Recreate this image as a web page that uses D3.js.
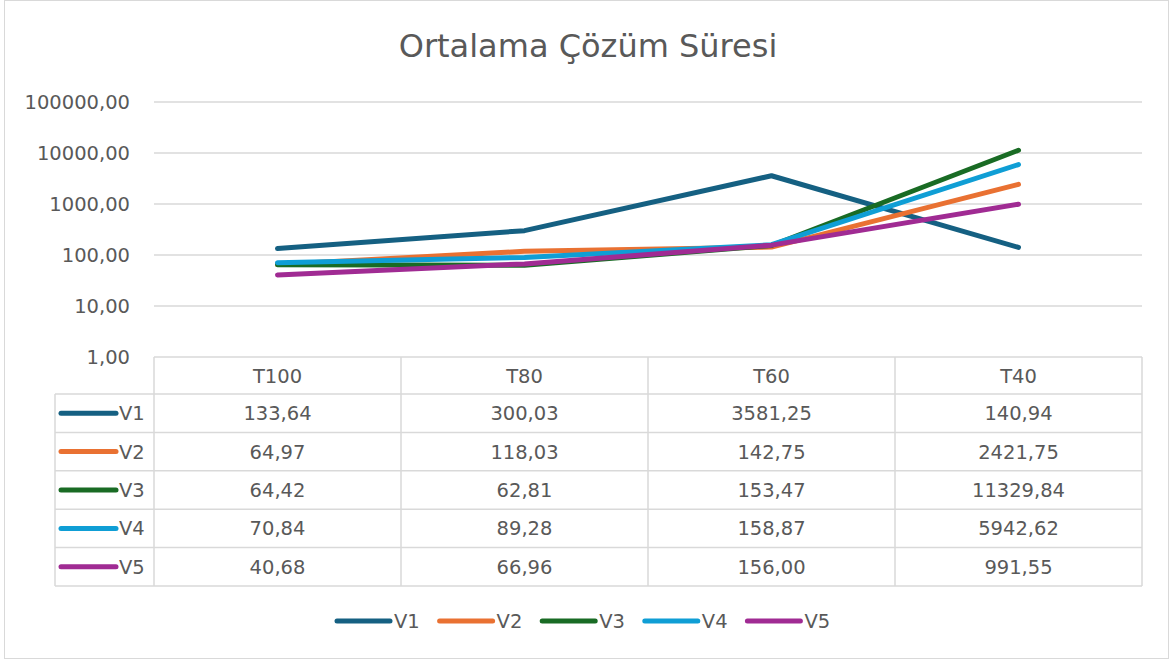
<!DOCTYPE html>
<html>
<head>
<meta charset="utf-8">
<script src="https://cdn.jsdelivr.net/npm/d3@7"></script>
<style>
  body { margin: 0; background: #fff; }
  svg { display: block; font-family: "DejaVu Sans", sans-serif; }
</style>
</head>
<body>
<svg id="chart"></svg>
<script>
let categories = ['T100', 'T80', 'T60', 'T40']
let seriesNames = ['V1', 'V2', 'V3', 'V4', 'V5']
let v1 = [133.64, 300.03, 3581.25, 140.94]
let v2 = [64.97, 118.03, 142.75, 2421.75]
let v3 = [64.42, 62.81, 153.47, 11329.84]
let v4 = [70.84, 89.28, 158.87, 5942.62]
let v5 = [40.68, 66.96, 156.00, 991.55]
let yTicks = [1, 10, 100, 1000, 10000, 100000]
let colors = ['#156082', '#E97132', '#196B24', '#0F9ED5', '#A02B93']

let series = [v1, v2, v3, v4, v5]

let w = 1171
let h = 659
let plotLeft = 154
let plotRight = 1142
let plotTop = 102
let plotBottom = 357
let headerH = 37
let rowH = 38.4
let legendX = 55
let fs = 19.5
let txt = '#595959'

let fmt = (v) => v.toFixed(2).replace('.', ',')

let svg = d3.select('#chart').attr('width', w).attr('height', h)

// chart border
svg.append('rect')
   .attr('x', 4.5).attr('y', 0.5)
   .attr('width', 1164).attr('height', 658)
   .attr('fill', '#fff').attr('stroke', '#d9d9d9')

svg.append('text')
   .attr('x', 588).attr('y', 57)
   .attr('text-anchor', 'middle')
   .attr('font-size', 32)
   .attr('fill', txt)
   .text('Ortalama Çözüm Süresi')

let xScale = d3.scaleBand().domain(categories).range([plotLeft, plotRight])
let yScale = d3.scaleLog().domain([1, 100000]).range([plotBottom, plotTop])

// gridlines
svg.append('g')
   .selectAll('line')
   .data(yTicks.slice(1))
   .enter()
   .append('line')
   .attr('x1', plotLeft).attr('x2', plotRight)
   .attr('y1', (d) => yScale(d)).attr('y2', (d) => yScale(d))
   .attr('stroke', '#d9d9d9').attr('stroke-width', 1.5)

// y axis labels
let yAxis = d3.axisLeft(yScale).tickValues(yTicks).tickFormat(fmt).tickSize(0).tickPadding(24)
let yg = svg.append('g').attr('transform', 'translate(' + plotLeft + ',0)').call(yAxis)
yg.select('.domain').remove()
yg.selectAll('text').attr('font-size', fs).attr('fill', txt).attr('font-family', '"DejaVu Sans", sans-serif')

// data table
let tbl = svg.append('g')
let tableBottom = plotBottom + headerH + rowH * series.length
let gridStroke = '#d9d9d9'

tbl.append('line').attr('x1', plotLeft).attr('x2', plotRight).attr('y1', plotBottom).attr('y2', plotBottom)
   .attr('stroke', gridStroke).attr('stroke-width', 1.5)
series.forEach((s, i) => {
  let y = plotBottom + headerH + rowH * i
  tbl.append('line').attr('x1', legendX).attr('x2', plotRight).attr('y1', y).attr('y2', y)
     .attr('stroke', gridStroke).attr('stroke-width', 1.5)
})
tbl.append('line').attr('x1', legendX).attr('x2', plotRight).attr('y1', tableBottom).attr('y2', tableBottom)
   .attr('stroke', gridStroke).attr('stroke-width', 1.5)
tbl.append('line').attr('x1', legendX).attr('x2', legendX).attr('y1', plotBottom + headerH).attr('y2', tableBottom)
   .attr('stroke', gridStroke).attr('stroke-width', 1.5)
categories.concat(['end']).forEach((c) => {
  let x = c === 'end' ? plotRight : xScale(c)
  tbl.append('line').attr('x1', x).attr('x2', x).attr('y1', plotBottom).attr('y2', tableBottom)
     .attr('stroke', gridStroke).attr('stroke-width', 1.5)
})

// header
tbl.selectAll('.hdr')
   .data(categories)
   .enter()
   .append('text')
   .attr('x', (d) => xScale(d) + xScale.bandwidth() / 2)
   .attr('y', plotBottom + headerH / 2 + 7)
   .attr('text-anchor', 'middle')
   .attr('font-size', fs).attr('fill', txt)
   .text((d) => d)

series.forEach((s, i) => {
  let yMid = plotBottom + headerH + rowH * i + rowH / 2
  tbl.append('line')
     .attr('x1', legendX + 6).attr('x2', legendX + 61)
     .attr('y1', yMid).attr('y2', yMid)
     .attr('stroke', colors[i]).attr('stroke-width', 5).attr('stroke-linecap', 'round')
  tbl.append('text')
     .attr('x', legendX + 64).attr('y', yMid + 7)
     .attr('font-size', fs).attr('fill', txt)
     .text(seriesNames[i])
  tbl.selectAll('.cell' + i)
     .data(s)
     .enter()
     .append('text')
     .attr('x', (d, j) => xScale(categories[j]) + xScale.bandwidth() / 2)
     .attr('y', yMid + 7)
     .attr('text-anchor', 'middle')
     .attr('font-size', fs).attr('fill', txt)
     .text((d) => fmt(d))
})

// lines
let line = d3.line()
             .x((d, j) => xScale(categories[j]) + xScale.bandwidth() / 2)
             .y((d) => yScale(d))

svg.append('g')
   .selectAll('path')
   .data(series)
   .enter()
   .append('path')
   .attr('d', (d) => line(d))
   .attr('fill', 'none')
   .attr('stroke', (d, i) => colors[i])
   .attr('stroke-width', 5)
   .attr('stroke-linecap', 'round')
   .attr('stroke-linejoin', 'round')

// bottom legend
let lg = svg.append('g')
seriesNames.forEach((n, i) => {
  let x = 337 + i * 102.6
  lg.append('line')
    .attr('x1', x).attr('x2', x + 53)
    .attr('y1', 621).attr('y2', 621)
    .attr('stroke', colors[i]).attr('stroke-width', 5).attr('stroke-linecap', 'round')
  lg.append('text')
    .attr('x', x + 57).attr('y', 628)
    .attr('font-size', fs).attr('fill', txt)
    .text(n)
})
</script>
</body>
</html>
